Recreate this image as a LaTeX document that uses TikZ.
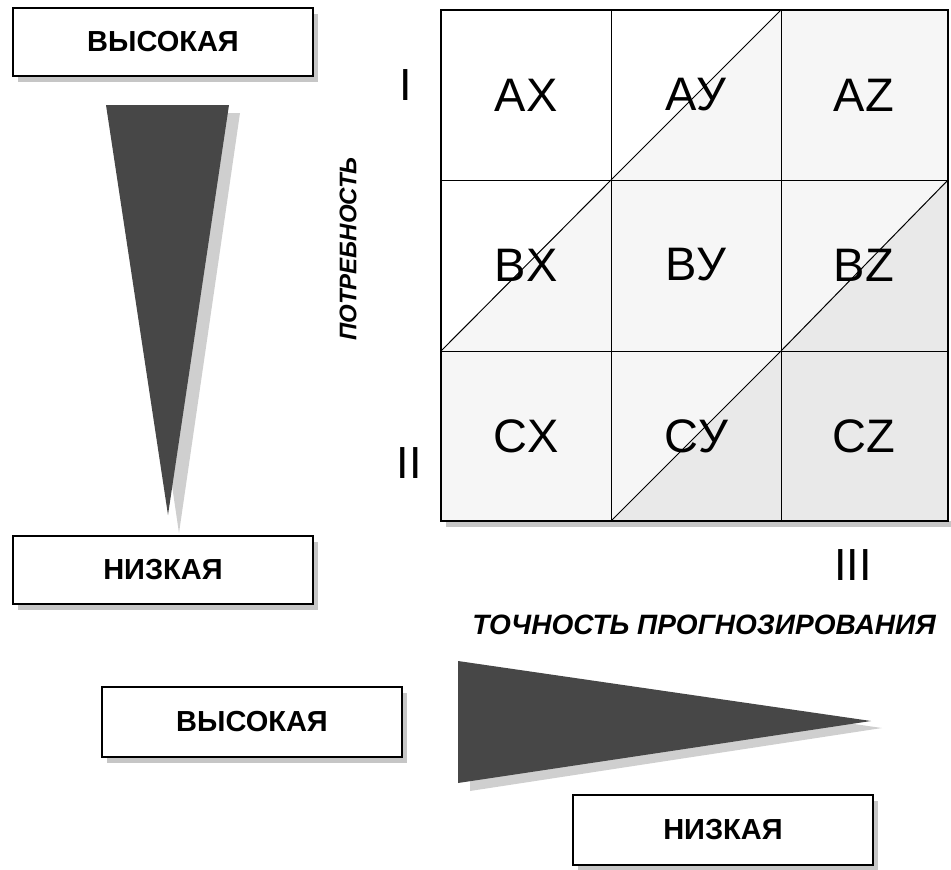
\documentclass[tikz,border=0pt]{standalone}
\usepackage{fontspec}
\setmainfont{Liberation Sans}
\usetikzlibrary{shadows,positioning}

\begin{document}
\begin{tikzpicture}[x=1pt,y=-1pt,
    levelbox/.style={rectangle, draw, line width=1.3pt, fill=white, minimum width=300pt, minimum height=68pt, font=\fontsize{29}{30}\selectfont\bfseries, drop shadow={shadow xshift=5pt, shadow yshift=-6pt, fill=gray!45, opacity=1}},
    cell/.style={font=\fontsize{47}{48}\selectfont},
    roman/.style={font=\fontsize{45}{46}\selectfont},
    axis/.style={font=\fontsize{24}{25}\selectfont\bfseries\itshape},
    wedge/.style={fill=black!72},
    wedgeshadow/.style={fill=gray!38},
    zoneb/.style={fill=gray!7},
    zonec/.style={fill=gray!17}
]
\useasboundingbox (0,0) rectangle (951,870);

% level boxes
\node[levelbox] (needhi) at (163,42) {ВЫСОКАЯ};
\node[levelbox] (needlo) at (163,570) {НИЗКАЯ};
\node[levelbox, minimum height=70pt] (fcsthi) at (252,722) {ВЫСОКАЯ};
\node[levelbox, minimum height=70pt] (fcstlo) at (723,830) {НИЗКАЯ};

% wedges
\fill[wedgeshadow] (117,113) -- (240,113) -- (179,533) -- cycle;
\fill[wedge] (106,105) -- (229,105) -- (168,515) -- cycle;
\fill[wedgeshadow] (470,669) -- (470,791) -- (882,728) -- cycle;
\fill[wedge] (458,661) -- (458,783) -- (871,721) -- cycle;

% matrix: shadow, shaded zones, lines
\fill[gray!45] (446,521) rectangle (951,527);
\fill[white] (441,10) rectangle (948,521);
\fill[zoneb] (441,351) -- (611,180) -- (781,10) -- (948,10) -- (948,180)
  -- (781,351) -- (611,521) -- (441,521) -- cycle;
\fill[zonec] (611,521) -- (781,351) -- (948,180) -- (948,521) -- cycle;
\draw[line width=1pt] (611,10) -- (611,521) (781,10) -- (781,521)
  (441,180) -- (948,180) (441,351) -- (948,351);
\draw[line width=1pt] (441,351) -- (611,180) -- (781,10);
\draw[line width=1pt] (611,521) -- (781,351) -- (948,180);
\draw[line width=2.4pt] (441,10) rectangle (948,521);

% cell labels
\foreach \rl/\rn/\yc in {A/a/95, B/b/265, C/c/436} {
  \foreach \cl/\cn/\xc in {X/x/526, У/y/696, Z/z/864} {
    \node[cell] (cell-\rn\cn) at (\xc,\yc) {\rl\cl};
  }
}

% axis labels
\node[roman] (rowI) at (406,85) {I};
\node[roman] (rowII) at (409,463) {II};
\node[roman] (colIII) at (853,565) {III};
\node[axis, rotate=90] (need) at (348,249) {ПОТРЕБНОСТЬ};
\node[axis, font=\fontsize{28}{29}\selectfont\bfseries\itshape] (fcst) at (704,625) {ТОЧНОСТЬ ПРОГНОЗИРОВАНИЯ};
\end{tikzpicture}
\end{document}
